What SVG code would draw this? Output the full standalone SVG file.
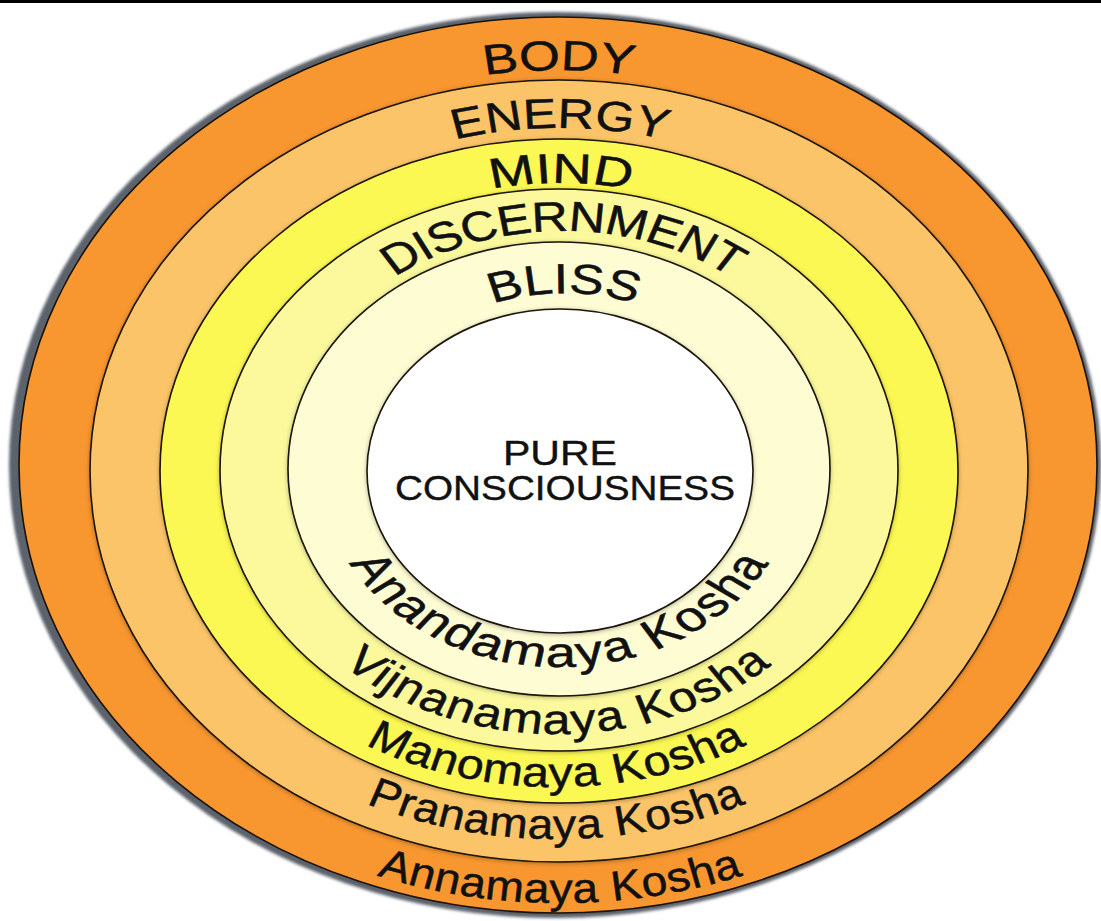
<svg xmlns="http://www.w3.org/2000/svg" width="1101" height="921" viewBox="0 0 1101 921">
<defs>
<style>
.ring{stroke:#1a1208;stroke-width:1.6}
.lbl{font-family:"Liberation Sans",Arial,sans-serif;font-size:42px;fill:#111;stroke:#111;stroke-width:0.5}
.ctr{font-family:"Liberation Sans",Arial,sans-serif;font-size:35px;fill:#111;stroke:#111;stroke-width:0.4;text-anchor:middle}
</style>
<filter id="sh" x="-10%" y="-10%" width="120%" height="120%">
<feDropShadow dx="0" dy="1" stdDeviation="2.2" flood-color="#000" flood-opacity="0.3"/>
</filter>
<filter id="blur" x="-5%" y="-5%" width="110%" height="110%">
<feGaussianBlur stdDeviation="1.5"/>
</filter>
<path id="pBody" d="M 176.6 468 A 382.4 398 0 0 1 941.4 468"/>
<path id="pEnergy" d="M 220 468 A 340 340 0 0 1 900 468"/>
<path id="pMind" d="M 297.9 468 A 263.1 285 0 0 1 824.1 468"/>
<path id="pDisc" d="M 326.3 468 A 236.7 237 0 0 1 799.7 468"/>
<path id="pBliss" d="M 391.9 468 A 172.1 175 0 0 1 736.1 468"/>
<path id="pAnanda" d="M 375.2 468 A 183.8 199 0 0 0 742.8 468"/>
<path id="pVijnana" d="M 291.2 468 A 265.8 266 0 0 0 822.8 468"/>
<path id="pMano" d="M 223 468 A 333 319 0 0 0 889 468"/>
<path id="pPrana" d="M 151.5 468 A 404.5 371 0 0 0 960.5 468"/>
<path id="pAnna" d="M 85.5 468 A 474.5 435 0 0 0 1034.5 468"/>
</defs>
<rect x="0" y="0" width="1101" height="921" fill="#ffffff"/>
<rect x="0" y="0" width="1101" height="3" fill="#000"/>

<g id="shadow">
<ellipse cx="555" cy="465" rx="546" ry="453" fill="#5b626c" filter="url(#blur)"/>
</g>
<g id="annamaya">
<ellipse class="ring" cx="558" cy="465" rx="539" ry="448" fill="#f8962f"/>
</g>
<g id="pranamaya">
<ellipse class="ring" cx="559" cy="471" rx="469" ry="391" fill="#fcc468" filter="url(#sh)"/>
</g>
<g id="manomaya">
<ellipse class="ring" cx="559" cy="471" rx="399" ry="332" fill="#fbf852" filter="url(#sh)"/>
</g>
<g id="vijnanamaya">
<ellipse class="ring" cx="559" cy="470" rx="339" ry="281" fill="#fbf99c" filter="url(#sh)"/>
</g>
<g id="anandamaya">
<ellipse class="ring" cx="559" cy="469" rx="271" ry="227" fill="#fdfcd3" filter="url(#sh)"/>
</g>
<g id="consciousness">
<ellipse class="ring" cx="560" cy="471" rx="193" ry="162" fill="#ffffff" filter="url(#sh)"/>
<text class="ctr" x="560" y="465" textLength="114" lengthAdjust="spacingAndGlyphs">PURE</text>
<text class="ctr" x="565" y="500" textLength="340" lengthAdjust="spacingAndGlyphs">CONSCIOUSNESS</text>
</g>

<g id="labels">
<g transform="matrix(1.25,0,0,1,-139.75,0)"><text class="lbl"><textPath href="#pBody" startOffset="50%" text-anchor="middle">BODY</textPath></text></g>
<g transform="matrix(1.2,0,0,1,-112,0)"><text class="lbl"><textPath href="#pEnergy" startOffset="50%" text-anchor="middle">ENERGY</textPath></text></g>
<g transform="matrix(1.3,0,0,1,-168.3,0)"><text class="lbl"><textPath href="#pMind" startOffset="50%" text-anchor="middle">MIND</textPath></text></g>
<g transform="matrix(1.2,0,0,1,-112.6,0)"><text class="lbl"><textPath href="#pDisc" startOffset="50%" text-anchor="middle" textLength="300">DISCERNMENT</textPath></text></g>
<g transform="matrix(1.22,0,0,1,-124.08,0)"><text class="lbl"><textPath href="#pBliss" startOffset="50%" text-anchor="middle">BLISS</textPath></text></g>
<g transform="matrix(1.3,0,0,1,-167.7,0)"><text class="lbl"><textPath href="#pAnanda" startOffset="50%" text-anchor="middle" textLength="404">Anandamaya Kosha</textPath></text></g>
<g transform="matrix(1.2,0,0,1,-111.4,0)"><text class="lbl"><textPath href="#pVijnana" startOffset="50%" text-anchor="middle" textLength="392">Vijnanamaya Kosha</textPath></text></g>
<g transform="matrix(1.15,0,0,1,-83.4,0)"><text class="lbl"><textPath href="#pMano" startOffset="50%" text-anchor="middle" textLength="346">Manomaya Kosha</textPath></text></g>
<g transform="matrix(1.1,0,0,1,-55.6,0)"><text class="lbl"><textPath href="#pPrana" startOffset="50%" text-anchor="middle" textLength="355">Pranamaya Kosha</textPath></text></g>
<g transform="matrix(1.1,0,0,1,-56,0)"><text class="lbl"><textPath href="#pAnna" startOffset="50%" text-anchor="middle" textLength="339">Annamaya Kosha</textPath></text></g>
</g>
</svg>
